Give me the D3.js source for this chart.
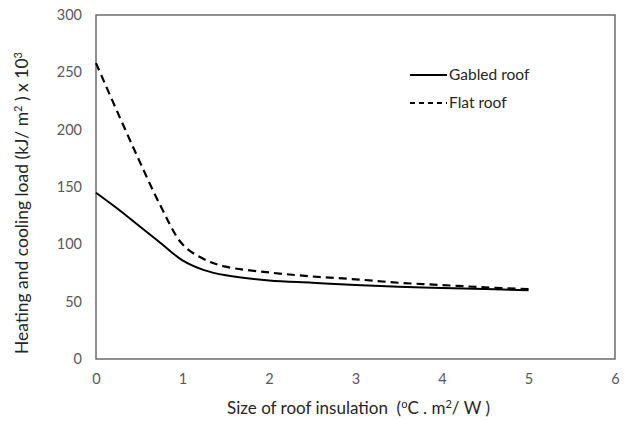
<!DOCTYPE html>
<html><head><meta charset="utf-8">
<script src="https://cdn.jsdelivr.net/npm/d3@7"></script>
<style>body{margin:0;background:#fff}svg{display:block;font-family:Lato,"Open Sans",sans-serif}</style>
</head><body><svg id="c" width="627" height="421"></svg>
<script>
const insulation = [0, 0.25, 0.5, 0.75, 1, 1.25, 1.5, 2, 2.5, 3, 3.5, 4, 4.5, 5];
const gabledRoof = [145, 131, 116, 101, 86, 77.5, 73, 68.5, 66.5, 64.5, 63, 62, 61, 60];
const flatRoof   = [258, 215, 173, 133, 100, 87, 80.5, 75.5, 72, 69.5, 66.5, 64.5, 62.5, 61];
const xTicks = [0, 1, 2, 3, 4, 5, 6];
const yTicks = [0, 50, 100, 150, 200, 250, 300];
const seriesNames = ["Gabled roof", "Flat roof"];

const svg = d3.select("#c");
const m = {l: 96, r: 615, t: 15, b: 359};
const x = d3.scaleLinear().domain([0, 6]).range([m.l, m.r]);
const y = d3.scaleLinear().domain([0, 300]).range([m.b, m.t]);
const tickCol = "#595959";
const ff = "Lato,'Open Sans',sans-serif";

// frame
svg.append("rect").attr("x", m.l).attr("y", m.t).attr("width", m.r - m.l).attr("height", m.b - m.t)
  .attr("fill", "none").attr("stroke", "#6b6b6b").attr("stroke-width", 1.5);

// axes labels
const xa = svg.append("g").attr("transform", `translate(0,${m.b})`)
  .call(d3.axisBottom(x).tickValues(xTicks).tickSize(0).tickPadding(15).tickFormat(d3.format("d")));
xa.select(".domain").remove();
xa.selectAll("text").attr("fill", tickCol).style("font-size", "14.5px").style("font-family", ff);

const ya = svg.append("g").attr("transform", `translate(${m.l},0)`)
  .call(d3.axisLeft(y).tickValues(yTicks).tickSize(0).tickPadding(14));
ya.select(".domain").remove();
ya.selectAll("text").attr("fill", tickCol).style("font-size", "14.5px").style("font-family", ff);

// lines
const line = d3.line().x((d, i) => x(insulation[i])).y(d => y(d)).curve(d3.curveCatmullRom.alpha(0.5));
svg.append("path").datum(gabledRoof).attr("d", line).attr("fill", "none").attr("stroke", "#000").attr("stroke-width", 2);
svg.append("path").datum(flatRoof).attr("d", line).attr("fill", "none").attr("stroke", "#000").attr("stroke-width", 2.2).attr("stroke-dasharray", "8,5");

// legend
const lg = svg.append("g");
[[75, null], [103, "5,4"]].forEach((s, i) => {
  lg.append("line").attr("x1", 410).attr("x2", 447).attr("y1", s[0]).attr("y2", s[0])
    .attr("stroke", "#000").attr("stroke-width", 2).attr("stroke-dasharray", s[1]);
  lg.append("text").attr("x", 449).attr("y", s[0] + 5).attr("fill", "#262626").style("font-size", "15.5px")
    .text(seriesNames[i]);
});

// x title
const xt = svg.append("text").attr("x", (m.l + m.r) / 2 + 3).attr("y", 414).attr("text-anchor", "middle")
  .attr("fill", "#262626").style("font-size", "17px");
xt.append("tspan").text("Size of roof insulation\u00a0\u00a0(");
xt.append("tspan").attr("baseline-shift", "super").style("font-size", "11px").text("o");
xt.append("tspan").text("C . m");
xt.append("tspan").attr("baseline-shift", "super").style("font-size", "11px").text("2");
xt.append("tspan").text("/ W )");

// y title
const yt = svg.append("text").attr("transform", `translate(28,${(m.t + m.b) / 2 + 16}) rotate(-90)`)
  .attr("text-anchor", "middle").attr("fill", "#262626").style("font-size", "17.5px");
yt.append("tspan").text("Heating and cooling load (kJ/ m");
yt.append("tspan").attr("baseline-shift", "super").style("font-size", "11px").text("2");
yt.append("tspan").text("\u00a0) x 10");
yt.append("tspan").attr("baseline-shift", "super").style("font-size", "11px").text("3");
</script></body></html>
